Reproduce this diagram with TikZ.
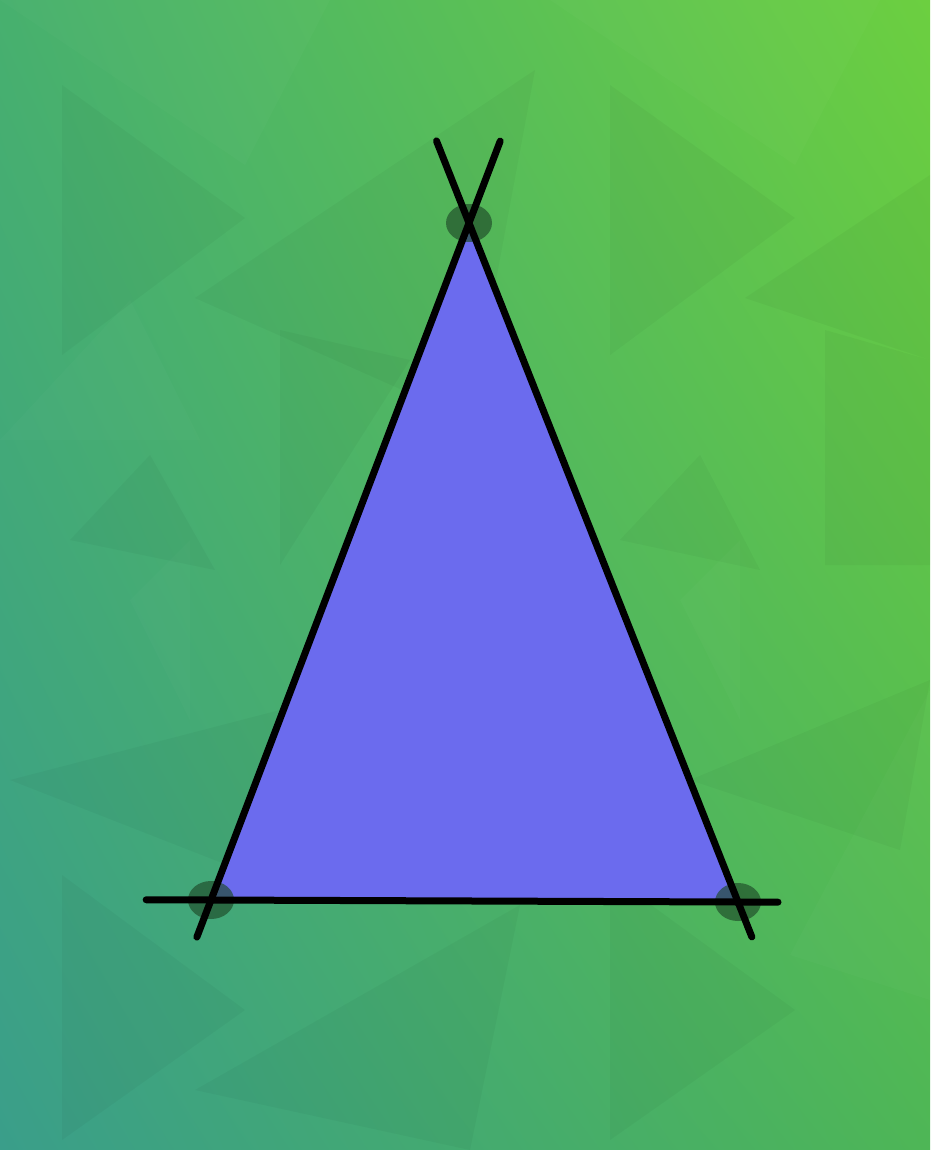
\documentclass[tikz,border=0pt]{standalone}
\usetikzlibrary{calc,shadings}
\definecolor{bgTL}{HTML}{47B06E}
\definecolor{bgTR}{HTML}{6CCF40}
\definecolor{bgBL}{HTML}{3A9E8A}
\definecolor{bgBR}{HTML}{4EB656}
\definecolor{trifill}{HTML}{6B6BEE}
\definecolor{dotcol}{HTML}{1E4A28}
\tikzset{
  facet/.style={fill=black, fill opacity=0.03, draw=none},
  litfacet/.style={fill=white, fill opacity=0.02, draw=none},
  sideline/.style={line width=7pt, line cap=round, draw=black},
  vdot/.style={fill=dotcol, fill opacity=0.65, draw=none},
}
\begin{document}
\begin{tikzpicture}[x=1pt,y=-1pt]
\useasboundingbox (0,0) rectangle (930,1150);
\shade[upper left=bgTL, upper right=bgTR, lower left=bgBL, lower right=bgBR] (0,1150) rectangle (930,0);
% faint background facets
\fill[facet] (62,85) -- (245,218) -- (62,355) -- cycle;
\fill[facet] (610,85) -- (795,218) -- (610,355) -- cycle;
\fill[facet] (62,875) -- (245,1010) -- (62,1140) -- cycle;
\fill[facet] (610,875) -- (795,1010) -- (610,1140) -- cycle;
\fill[facet] (195,298) -- (535,70) -- (470,420) -- cycle;
\fill[facet] (745,298) -- (930,175) -- (930,360) -- cycle;
\fill[facet] (195,1090) -- (520,905) -- (470,1150) -- cycle;
\fill[facet] (70,540) -- (150,455) -- (215,570) -- cycle;
\fill[facet] (620,540) -- (700,455) -- (760,570) -- cycle;
\fill[facet] (10,780) -- (280,710) -- (240,870) -- cycle;
\fill[facet] (690,780) -- (930,680) -- (900,850) -- cycle;
\fill[facet] (280,330) -- (410,360) -- (280,565) -- cycle;
\fill[facet] (825,330) -- (930,360) -- (930,565) -- (825,565) -- cycle;
\fill[litfacet] (0,0) -- (330,0) -- (245,165) -- cycle;
\fill[litfacet] (550,0) -- (880,0) -- (795,165) -- cycle;
\fill[litfacet] (130,600) -- (190,540) -- (190,720) -- cycle;
\fill[litfacet] (680,600) -- (740,540) -- (740,720) -- cycle;
\fill[litfacet] (0,440) -- (130,300) -- (200,440) -- cycle;
\fill[litfacet] (790,955) -- (930,690) -- (930,1000) -- cycle;
% triangle
\coordinate (A) at (469,223);
\coordinate (B) at (211,900);
\coordinate (C) at (738,902);
\fill[trifill] (A) -- (B) -- (C) -- cycle;
\fill[vdot] (A) ellipse [x radius=23, y radius=19];
\fill[vdot] (B) ellipse [x radius=23, y radius=19];
\fill[vdot] (C) ellipse [x radius=23, y radius=19];
\draw[sideline] ($(A)!-0.121!(B)$) -- ($(A)!1.0547!(B)$);
\draw[sideline] ($(A)!-0.1208!(C)$) -- ($(A)!1.0515!(C)$);
\draw[sideline] ($(B)!-0.123!(C)$) -- ($(B)!1.0759!(C)$);
\end{tikzpicture}
\end{document}
